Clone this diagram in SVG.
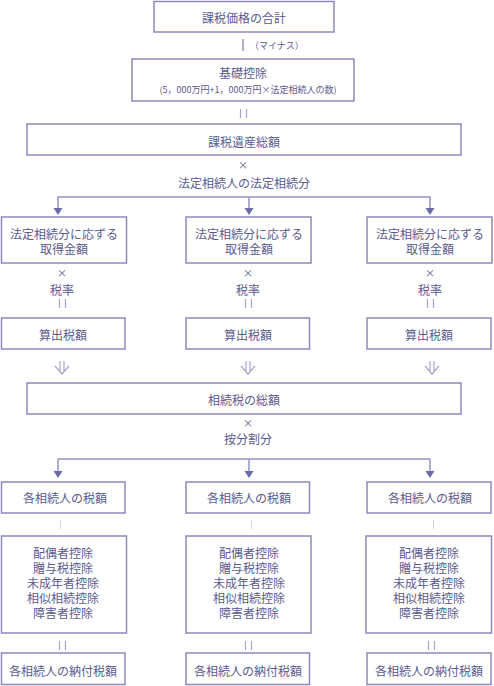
<svg xmlns="http://www.w3.org/2000/svg" width="494" height="686" viewBox="0 0 494 686">
<defs>
<style>
.box{fill:#fff;stroke:#8a8abf;stroke-width:1.5}
.t{font-family:"Noto Sans CJK JP","Noto Sans CJK SC",sans-serif;font-size:12px;fill:#5a5a8e;text-anchor:middle;dominant-baseline:central}
.s{font-size:9px}
.x{font-size:10px}
.ln{stroke:#9494c6;stroke-width:1.5;fill:none}
.eq{stroke:#a4a4d0;stroke-width:1.2;fill:none}
.lt{stroke:#d4d4e0;stroke-width:1;fill:none}
.ah{fill:#6b6ba8}
</style>
</defs>
<g id="connectors">
<line class="ln" x1="243" y1="39" x2="243" y2="51"/>
<text class="t s" x="250" y="45" style="text-anchor:start">（マイナス）</text>
<path class="eq" d="M240.5,109 V118 M246.5,109 V118"/>
<text class="t x" x="243" y="164">×</text>
<text class="t" x="244" y="182">法定相続人の法定相続分</text>
<path class="ln" d="M58,197 H430 M58,196.5 V209 M249,197 V209 M430,196.5 V209"/>
<path class="ah" d="M53.5,208 h9 l-4.5,7 z M244.5,208 h9 l-4.5,7 z M425.5,208 h9 l-4.5,7 z"/>
<g id="col-calc">
<text class="t x" x="62" y="272">×</text>
<text class="t" x="62" y="289">税率</text>
<path class="eq" d="M59.5,299 V308 M65.5,299 V308"/>
<text class="t x" x="248" y="272">×</text>
<text class="t" x="248" y="289">税率</text>
<path class="eq" d="M245.5,299 V308 M251.5,299 V308"/>
<text class="t x" x="430" y="272">×</text>
<text class="t" x="430" y="289">税率</text>
<path class="eq" d="M427.5,299 V308 M433.5,299 V308"/>
</g>
<path class="eq" d="M60,361 V372 M64,361 V372 M55,366 L62,374 L69,366 M246,361 V372 M250,361 V372 M241,366 L248,374 L255,366 M430,361 V372 M434,361 V372 M425,366 L432,374 L439,366"/>
<text class="t x" x="248" y="422">×</text>
<text class="t" x="248" y="438">按分割分</text>
<path class="ln" d="M58,459 H430 M58,458.5 V472 M249,459 V472 M430,458.5 V472"/>
<path class="ah" d="M53.5,471 h9 l-4.5,7 z M244.5,471 h9 l-4.5,7 z M425.5,471 h9 l-4.5,7 z"/>
<path class="lt" d="M60.5,520 V529 M251.5,520 V529 M433.5,520 V529"/>
<path class="eq" d="M59.5,641 V650 M65.5,641 V650 M245.5,641 V650 M251.5,641 V650 M428.5,641 V650 M434.5,641 V650"/>
</g>
<g id="n1"><rect class="box" x="154" y="1.5" width="180" height="30.5"/><text class="t" x="244" y="17">課税価格の合計</text></g>
<g id="n2"><rect class="box" x="132" y="59" width="222" height="42"/><text class="t" x="243" y="72">基礎控除</text><text class="t s" x="248" y="89">(5，000万円+1，000万円×法定相続人の数)</text></g>
<g id="n3"><rect class="box" x="27" y="124" width="434" height="31"/><text class="t" x="244" y="141">課税遺産総額</text></g>
<g id="n4a"><rect class="box" x="1.5" y="217" width="125" height="46"/><text class="t" x="64" y="233">法定相続分に応ずる</text><text class="t" x="64" y="248">取得金額</text></g>
<g id="n4b"><rect class="box" x="186" y="217" width="125" height="46"/><text class="t" x="249" y="233">法定相続分に応ずる</text><text class="t" x="249" y="248">取得金額</text></g>
<g id="n4c"><rect class="box" x="367" y="217" width="125" height="46"/><text class="t" x="430" y="233">法定相続分に応ずる</text><text class="t" x="430" y="248">取得金額</text></g>
<g id="n5a"><rect class="box" x="1.5" y="318" width="123.5" height="31"/><text class="t" x="63" y="334">算出税額</text></g>
<g id="n5b"><rect class="box" x="186" y="318" width="123.5" height="31"/><text class="t" x="248" y="334">算出税額</text></g>
<g id="n5c"><rect class="box" x="367" y="318" width="124" height="31"/><text class="t" x="429" y="334">算出税額</text></g>
<g id="n6"><rect class="box" x="27" y="383" width="434" height="31"/><text class="t" x="244" y="399">相続税の総額</text></g>
<g id="n7a"><rect class="box" x="1.5" y="482" width="123.5" height="31"/><text class="t" x="65" y="497">各相続人の税額</text></g>
<g id="n7b"><rect class="box" x="186" y="482" width="123.5" height="31"/><text class="t" x="249" y="497">各相続人の税額</text></g>
<g id="n7c"><rect class="box" x="367" y="482" width="124" height="31"/><text class="t" x="430" y="497">各相続人の税額</text></g>
<g id="n8a"><rect class="box" x="1.5" y="536" width="125" height="97"/><text class="t" x="63" y="552">配偶者控除</text><text class="t" x="63" y="567">贈与税控除</text><text class="t" x="63" y="582">未成年者控除</text><text class="t" x="63" y="597">相似相続控除</text><text class="t" x="63" y="612">障害者控除</text></g>
<g id="n8b"><rect class="box" x="186" y="536" width="125" height="97"/><text class="t" x="249" y="552">配偶者控除</text><text class="t" x="249" y="567">贈与税控除</text><text class="t" x="249" y="582">未成年者控除</text><text class="t" x="249" y="597">相似相続控除</text><text class="t" x="249" y="612">障害者控除</text></g>
<g id="n8c"><rect class="box" x="366" y="536" width="125.5" height="97"/><text class="t" x="429" y="552">配偶者控除</text><text class="t" x="429" y="567">贈与税控除</text><text class="t" x="429" y="582">未成年者控除</text><text class="t" x="429" y="597">相似相続控除</text><text class="t" x="429" y="612">障害者控除</text></g>
<g id="n9a"><rect class="box" x="1.5" y="653" width="123.5" height="31.5"/><text class="t" x="63" y="670">各相続人の納付税額</text></g>
<g id="n9b"><rect class="box" x="186" y="653" width="123.5" height="31.5"/><text class="t" x="248" y="670">各相続人の納付税額</text></g>
<g id="n9c"><rect class="box" x="367" y="653" width="124" height="31.5"/><text class="t" x="429" y="670">各相続人の納付税額</text></g>
</svg>
